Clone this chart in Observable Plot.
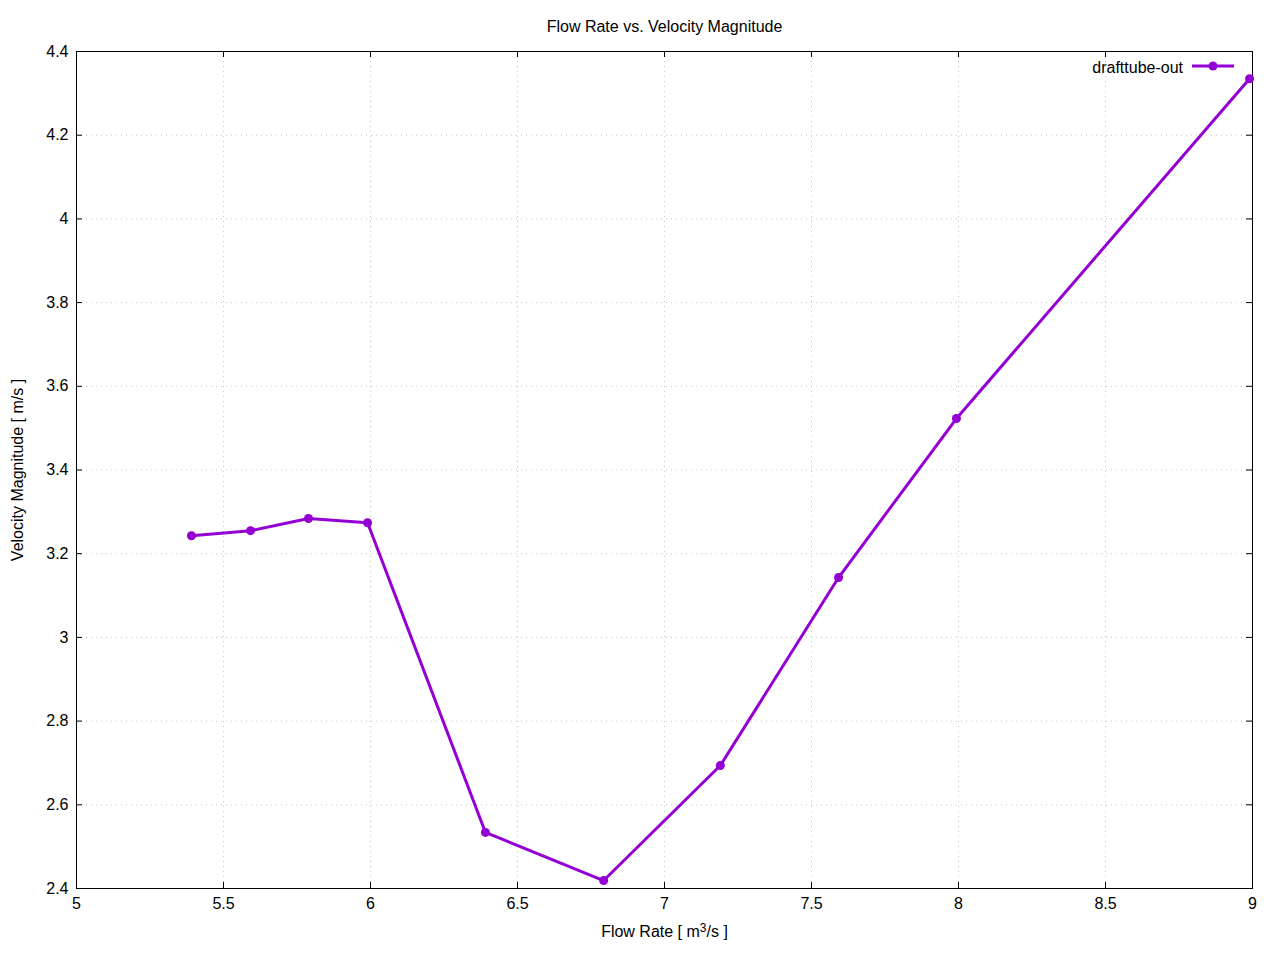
<!DOCTYPE html>
<html>
<head>
<meta charset="utf-8">
<script src="https://cdn.jsdelivr.net/npm/d3@7"></script>
<script src="https://cdn.jsdelivr.net/npm/@observablehq/plot@0.6"></script>
<style>
  html, body { margin: 0; padding: 0; background: #fff; }
  #wrap { position: relative; width: 1280px; height: 960px; font-family: "Liberation Sans", Arial, sans-serif; }
  #legend { position: absolute; left: 1060px; top: 55px; width: 190px; height: 24px; }
</style>
</head>
<body>
<div id="wrap"></div>
<script>
const flowRate = [5.391, 5.592, 5.789, 5.990, 6.391, 6.793, 7.190, 7.592, 7.993, 8.990];
const velocity = [3.243, 3.255, 3.284, 3.274, 2.534, 2.419, 2.694, 3.143, 3.523, 4.335];
const xTicks = [5, 5.5, 6, 6.5, 7, 7.5, 8, 8.5, 9];
const yTicks = [2.4, 2.6, 2.8, 3, 3.2, 3.4, 3.6, 3.8, 4, 4.2, 4.4];
const seriesName = "drafttube-out";
const titleText = "Flow Rate vs. Velocity Magnitude";
const xLabelParts = ["Flow Rate [ m", "3", "/s ]"];
const yLabel = "Velocity Magnitude [ m/s ]";

const color = "#9400d3";
const data = flowRate.map((x, i) => ({x, y: velocity[i]}));

const W = 1280, H = 960;
const mL = 76, mR = 28, mT = 51, mB = 72;
const frameH = H - mT - mB, frameW = W - mL - mR;
const tickLen = 6;
const fs = 16;

const chart = Plot.plot({
  width: W, height: H,
  marginLeft: mL, marginRight: mR, marginTop: mT, marginBottom: mB,
  style: {fontFamily: "'Liberation Sans', Arial, sans-serif", fontSize: fs + "px", color: "#000", background: "#fff", overflow: "visible"},
  x: {domain: [5, 9], ticks: xTicks, tickFormat: d => String(d)},
  y: {domain: [2.4, 4.4], ticks: yTicks, tickFormat: d => String(d)},
  marks: [
    Plot.gridX(xTicks, {stroke: "#c4c4c4", strokeOpacity: 1, strokeDasharray: "1,4"}),
    Plot.gridY(yTicks, {stroke: "#c4c4c4", strokeOpacity: 1, strokeDasharray: "1,4"}),
    Plot.axisX(xTicks, {tickSize: 0, tickPadding: 9, label: null, fontSize: fs, tickFormat: d => String(d)}),
    Plot.axisY(yTicks, {tickSize: 0, tickPadding: 8, label: null, fontSize: fs, tickFormat: d => String(d)}),
    Plot.tickX(xTicks, {x: d => d, insetTop: frameH - tickLen, stroke: "#000"}),
    Plot.tickX(xTicks, {x: d => d, insetBottom: frameH - tickLen, stroke: "#000"}),
    Plot.tickY(yTicks, {y: d => d, insetRight: frameW - tickLen, stroke: "#000"}),
    Plot.tickY(yTicks, {y: d => d, insetLeft: frameW - tickLen, stroke: "#000"}),
    Plot.frame({stroke: "#000", strokeWidth: 1}),
    Plot.line(data, {x: "x", y: "y", stroke: color, strokeWidth: 3}),
    Plot.dot(data, {x: "x", y: "y", r: 4.5, fill: color, stroke: "none"}),
    Plot.text([titleText], {text: d => d, frameAnchor: "top", lineAnchor: "middle", dy: -25, fontSize: fs}),
    Plot.text([xLabelParts.join("")], {text: d => d, frameAnchor: "bottom", lineAnchor: "middle", dy: 43, fontSize: fs, className: "xlabel"}),
    Plot.text([yLabel], {text: d => d, frameAnchor: "left", lineAnchor: "middle", textAnchor: "middle", dx: -59, rotate: -90, fontSize: fs})
  ]
});
document.getElementById("wrap").appendChild(chart);

// superscript in x label
d3.select(chart).selectAll(".xlabel text").each(function() {
  const t = d3.select(this);
  t.text(null);
  t.append("tspan").text(xLabelParts[0]);
  t.append("tspan").attr("dy", "-0.4em").attr("font-size", "0.75em").text(xLabelParts[1]);
  t.append("tspan").attr("dy", "0.3em").text(xLabelParts[2]);
});

// legend
const lg = d3.select("#wrap").append("svg").attr("id", "legend").attr("width", 190).attr("height", 24);
lg.append("text").attr("x", 123).attr("y", 12).attr("text-anchor", "end").attr("dominant-baseline", "central")
  .style("font-family", "'Liberation Sans', Arial, sans-serif").style("font-size", fs + "px").text(seriesName);
lg.append("line").attr("x1", 132).attr("x2", 174).attr("y1", 11).attr("y2", 11).attr("stroke", color).attr("stroke-width", 3);
lg.append("circle").attr("cx", 153).attr("cy", 11).attr("r", 4.5).attr("fill", color);
</script>
</body>
</html>
